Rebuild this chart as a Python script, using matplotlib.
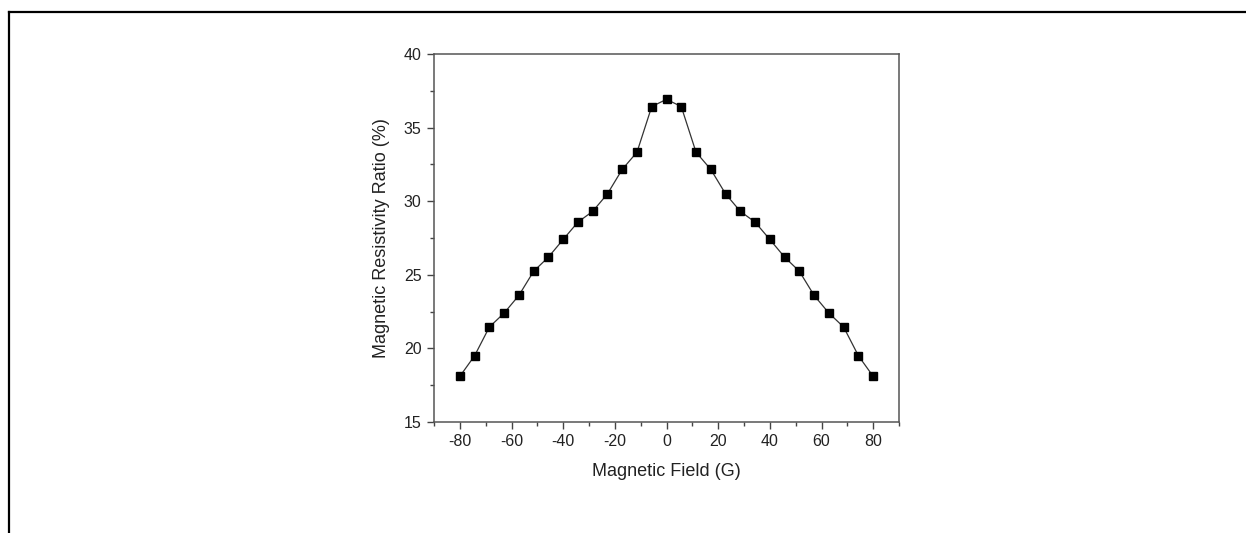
import matplotlib
matplotlib.use("Agg")
import matplotlib.pyplot as plt
import numpy as np
from matplotlib.lines import Line2D
from matplotlib.ticker import MultipleLocator

plt.rcParams['font.family'] = ['Liberation Sans', 'DejaVu Sans']
plt.rcParams['axes.unicode_minus'] = False

# magnetic field (G): 29 evenly spaced points from -80 to 80
field = np.linspace(-80, 80, 29)
ratio = [18.1, 19.5, 21.45, 22.4, 23.6, 25.24, 26.2, 27.4, 28.58, 29.31,
         30.5, 32.16, 33.33, 36.43, 36.92,
         36.43, 33.33, 32.16, 30.5, 29.31, 28.58, 27.4, 26.2, 25.24, 23.6,
         22.4, 21.45, 19.5, 18.1]

fig = plt.figure(figsize=(12.46, 5.33), dpi=100)
ax = fig.add_axes([434 / 1246, 1 - 422 / 533, 465 / 1246, 368 / 533])

ax.plot(field, ratio, color="#333333", linewidth=0.9,
        marker="s", markersize=6, markerfacecolor="black", markeredgecolor="black")

ax.set_xlim(-90, 90)
ax.set_ylim(15, 40)
ax.xaxis.set_major_locator(MultipleLocator(20))
ax.xaxis.set_minor_locator(MultipleLocator(10))
ax.yaxis.set_major_locator(MultipleLocator(5))
ax.yaxis.set_minor_locator(MultipleLocator(2.5))
ax.tick_params(which="both", direction="out", top=False, right=False,
               color="#444444", labelsize=11.5, labelcolor="#222222")
ax.tick_params(which="major", length=5, width=1, pad=4)
ax.tick_params(which="minor", length=3, width=1)
for s in ax.spines.values():
    s.set_color("#555555")
    s.set_linewidth(1.1)

ax.set_xlabel("Magnetic Field (G)", fontsize=13, color="#222222", labelpad=10)
ax.set_ylabel("Magnetic Resistivity Ratio (%)", fontsize=13, color="#222222", labelpad=10)

# outer frame (top and left edges)
fig.add_artist(Line2D([9 / 1246, 1.0], [1 - 11.5 / 533, 1 - 11.5 / 533],
                      transform=fig.transFigure, color="black", linewidth=1.6))
fig.add_artist(Line2D([9 / 1246, 9 / 1246], [0.0, 1 - 11.5 / 533],
                      transform=fig.transFigure, color="black", linewidth=1.6))

fig.savefig("out.png", dpi=100)
